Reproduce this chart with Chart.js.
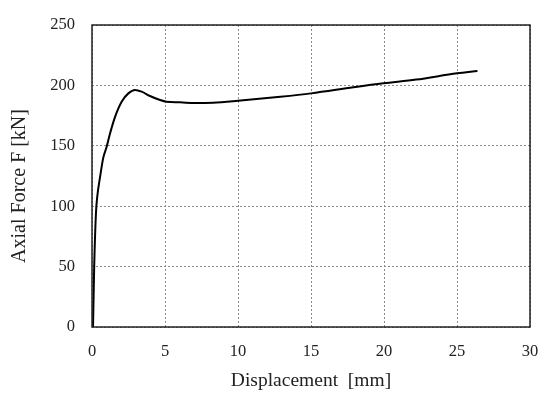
<!DOCTYPE html>
<html><head><meta charset="utf-8">
<script src="https://cdn.jsdelivr.net/npm/chart.js@4/dist/chart.umd.min.js"></script>
<style>html,body{margin:0;padding:0;background:#fff}#wrap{width:550px;height:399px}</style>
</head><body><div id="wrap"><canvas id="c" width="550" height="399"></canvas></div>
<script>
const displacement = [0.07, 0.15, 0.27, 0.36, 0.55, 0.77, 1.0, 1.23, 1.58, 2.03, 2.49, 2.95, 3.4, 3.97, 4.66, 5.1, 6.03, 7.05, 8.3, 10.0, 12.9, 15.0, 17.9, 19.95, 22.2, 25.0, 26.4];
const force =        [0,    50,   94,   108,  124,  140,  149,  160,  174,  186.5, 193.4, 196.2, 194.8, 191.2, 187.9, 186.5, 186, 185.4, 185.7, 187.3, 190.6, 193.4, 198.4, 201.7, 204.8, 210, 212];
const xTicks = [0, 5, 10, 15, 20, 25, 30];
const yTicks = [0, 50, 100, 150, 200, 250];

const frame = {
  id: 'frame',
  afterDraw(chart) {
    const {ctx, chartArea: a} = chart;
    ctx.save();
    ctx.strokeStyle = '#222';
    ctx.lineWidth = 1.5;
    ctx.strokeRect(a.left, a.top, a.right - a.left, a.bottom - a.top);
    ctx.restore();
  }
};
const font = "'Liberation Serif', 'Times New Roman', serif";
new Chart(document.getElementById('c'), {
  type: 'scatter',
  data: { datasets: [{
    data: displacement.map((x, i) => ({x, y: force[i]})),
    showLine: true, borderColor: '#000', borderWidth: 2, pointRadius: 0,
    cubicInterpolationMode: 'monotone', fill: false
  }]},
  options: {
    responsive: false, animation: false,
    layout: { padding: { left: 0, top: 25, right: 20, bottom: 0 } },
    plugins: { legend: { display: false }, tooltip: { enabled: false } },
    scales: {
      x: {
        type: 'linear', min: 0, max: 30,
        afterFit(s) { s.height = 72; s.paddingLeft = 0; s.paddingRight = 0; },
        afterBuildTicks(s) { s.ticks = xTicks.map(v => ({value: v})); },
        ticks: { color: '#222', font: { family: font, size: 16.5 }, padding: 15, maxRotation: 0 },
        grid: { color: '#8a8a8a', lineWidth: 1, drawTicks: false },
        border: { display: false, dash: [2, 2] },
        title: { display: true, text: 'Displacement  [mm]', color: '#222', font: { family: font, size: 19.5 }, padding: { top: 4, bottom: 6 } }
      },
      y: {
        type: 'linear', min: 0, max: 250,
        afterFit(s) { s.width = 92; s.paddingTop = 0; s.paddingBottom = 0; },
        afterBuildTicks(s) { s.ticks = yTicks.map(v => ({value: v})); },
        ticks: { color: '#222', font: { family: font, size: 16.5 }, padding: 17 },
        grid: { color: '#8a8a8a', lineWidth: 1, drawTicks: false },
        border: { display: false, dash: [2, 2] },
        title: { display: true, text: 'Axial Force F [kN]    ', color: '#222', font: { family: font, size: 20 }, padding: { top: 8, bottom: 4 } }
      }
    }
  },
  plugins: [frame]
});
</script></body></html>
